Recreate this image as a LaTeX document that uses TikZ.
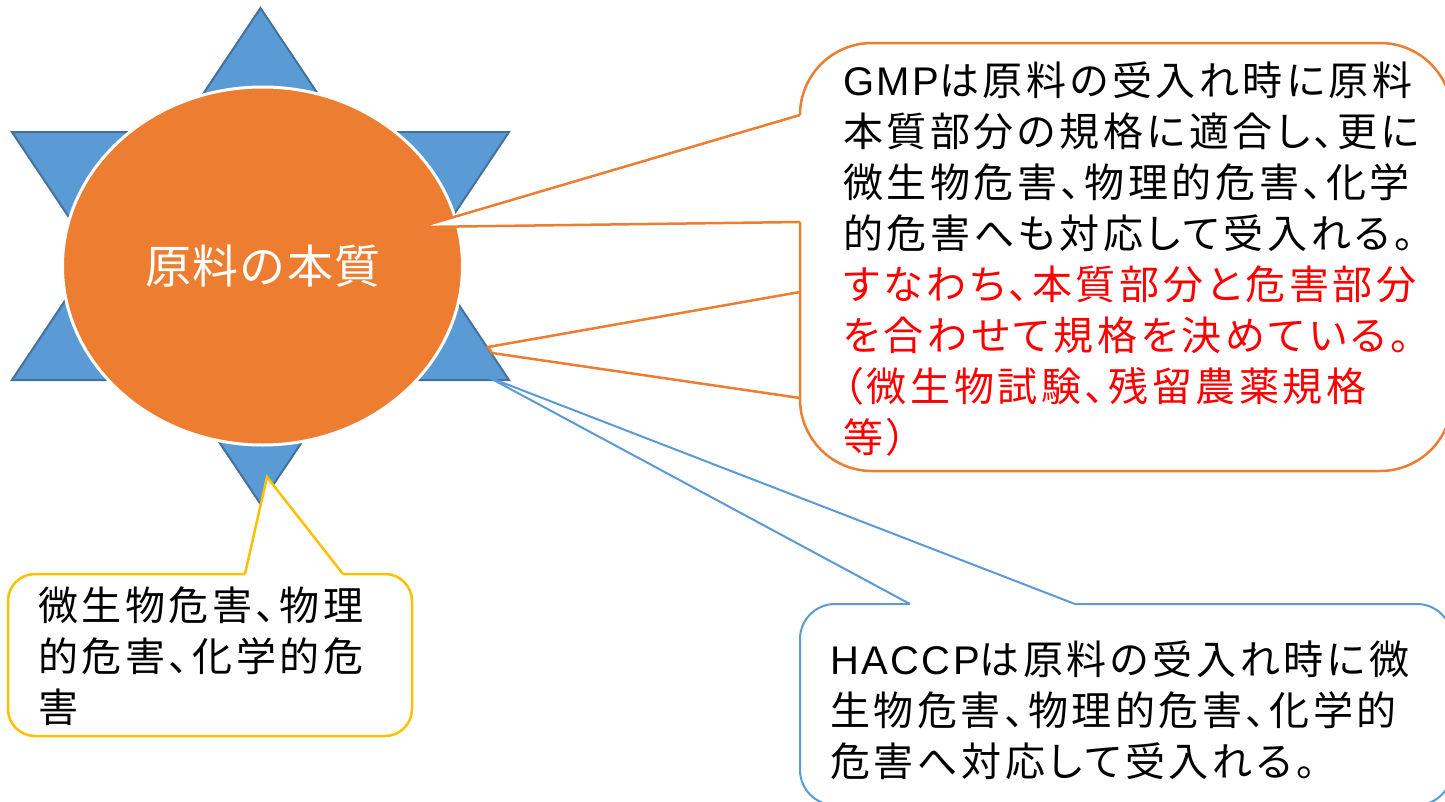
\documentclass[tikz,border=0pt]{standalone}
\usepackage{fontspec}
\setmainfont{Noto Sans CJK JP}
\newfontfamily\jpbody[LetterSpace=9,RawFeature=+palt]{Noto Sans CJK JP}
\newfontfamily\jpcore[LetterSpace=3]{Noto Sans CJK JP}
\newfontfamily\latinbody[LetterSpace=6]{Liberation Sans}
\definecolor{starfill}{HTML}{5B9BD5}
\definecolor{starline}{HTML}{41719C}
\definecolor{orng}{HTML}{ED7D31}
\definecolor{blu}{HTML}{5B9BD5}
\definecolor{yel}{HTML}{FFC000}
\definecolor{redtext}{HTML}{FF0000}
\begin{document}
\begin{tikzpicture}[x=1pt,y=-1pt,
  hexstar/.style={fill=starfill, draw=starline, line width=2pt, line join=miter},
  core/.style={fill=orng, draw=white, line width=3pt},
  obox/.style={draw=orng, line width=2.5pt, fill=white, rounded corners=72pt},
  bbox/.style={draw=blu, line width=2pt, fill=white, rounded corners=35pt},
  ybox/.style={draw=yel, line width=2.5pt, fill=white, rounded corners=27pt},
  bodytext/.style={inner sep=0pt, anchor=north west, align=left, text=black,
    font=\fontsize{40}{51}\jpbody}]
\useasboundingbox (0,0) rectangle (1445,801);
\clip (0,0) rectangle (1445,801);

% six-pointed star
\draw[hexstar] (260.5,8) -- (343.3,132) -- (509,132) -- (426.2,256) -- (509,380)
  -- (343.3,380) -- (260.5,504) -- (177.7,380) -- (12,380) -- (94.8,256)
  -- (12,132) -- (177.7,132) -- cycle;

% central ellipse
\draw[core] (262.5,266) ellipse [x radius=200, y radius=179];
\node[text=white, font=\fontsize{46}{50}\jpcore] (core) at (263,266) {原料の本質};

% tips of the callout pointers
\coordinate (tipA) at (420,227);
\coordinate (tipB1) at (488,347);
\coordinate (tipB2) at (492,353);
\coordinate (tipC) at (488,377);
\coordinate (tipD) at (267,477);

% orange callout (GMP)
\filldraw[draw=orng, line width=2.5pt, fill=white, line join=miter] (800,292) -- (tipB1) -- (tipB2) -- (800,398);
\draw[obox] (800,43) rectangle (1452,471);
\fill[white] (tipA) -- (800,115) -- (803,115) -- (803,222) -- (800,222) -- cycle;
\draw[draw=orng, line width=2.5pt, line join=miter] (800,115) -- (tipA) -- (800,222);

% blue callout (HACCP)
\draw[bbox] (800,604) rectangle (1452,805);
\fill[white] (tipC) -- (910,604) -- (910,607) -- (1075,607) -- (1075,604) -- cycle;
\draw[draw=blu, line width=2pt, line join=miter] (910,604) -- (tipC) -- (1075,604);

% yellow callout
\draw[ybox] (8,574) rectangle (412,736);
\fill[white] (tipD) -- (245,574) -- (245,577) -- (343,577) -- (343,574) -- cycle;
\draw[draw=yel, line width=2.5pt, line join=miter] (245,574) -- (tipD) -- (343,574);

% texts
\node[bodytext] (gmptext) at (843,62) {{\latinbody GMP}は原料の受入れ時に原料\\
本質部分の規格に適合し、更に\\
微生物危害、物理的危害、化学\\
的危害へも対応して受入れる。\\
\textcolor{redtext}{すなわち、本質部分と危害部分}\\
\textcolor{redtext}{を合わせて規格を決めている。}\\
\textcolor{redtext}{（微生物試験、残留農薬規格}\\
\textcolor{redtext}{等）}};

\node[bodytext] (hazardtext) at (38,587) {微生物危害、物理\\
的危害、化学的危\\
害};

\node[bodytext] (hacctext) at (830,641) {{\latinbody HACCP}は原料の受入れ時に微\\
生物危害、物理的危害、化学的\\
危害へ対応して受入れる。};
\end{tikzpicture}
\end{document}
